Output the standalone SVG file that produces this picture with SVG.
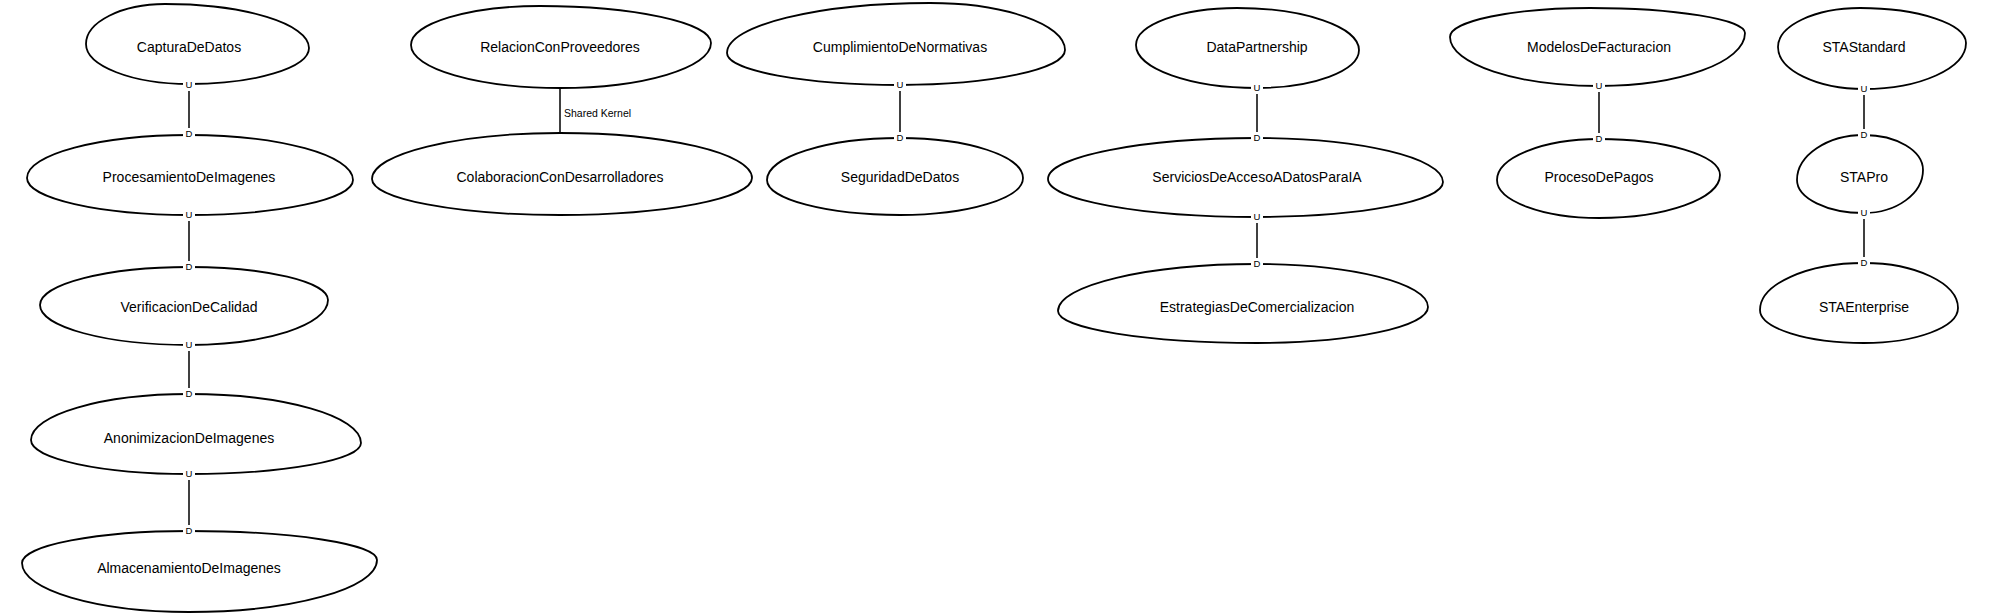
<svg xmlns="http://www.w3.org/2000/svg" width="2000" height="615" viewBox="0 0 2000 615">
<style>
.node path{fill:#fff;stroke:#000;stroke-width:1.8}
.node text{font-family:"Liberation Sans",Arial,sans-serif;font-size:14px;text-anchor:middle;fill:#000}
.edge line{stroke:#000;stroke-width:1.5}
.ud rect{fill:#fff}
.ud text{font-family:"Liberation Sans",Arial,sans-serif;font-size:9.5px;text-anchor:middle;fill:#000}
.lbl{font-family:"Liberation Sans",Arial,sans-serif;font-size:10.5px;fill:#000}
</style>
<rect width="2000" height="615" fill="#fff"/>
<g id="nodes">
<g id="CapturaDeDatos" class="node"><path d="M189,84 C132.4,84 86,66 86,44 C86,22 121.6,4 165,4 C244.2,4 309,23.8 309,48 C309,67.8 255,84 189,84Z"/><text x="189" y="52">CapturaDeDatos</text></g>
<g id="ProcesamientoDeImagenes" class="node"><path d="M189,215 C99.9,215 27,198.4 27,178 C27,154.4 99.9,135 189,135 C279.2,135 353,155.3 353,180 C353,199.3 279.2,215 189,215Z"/><text x="189" y="182">ProcesamientoDeImagenes</text></g>
<g id="VerificacionDeCalidad" class="node"><path d="M189,345 C107,345 40,327 40,305 C40,284.1 107,267 189,267 C265.5,267 328,281.9 328,300 C328,324.8 265.5,345 189,345Z"/><text x="189" y="312">VerificacionDeCalidad</text></g>
<g id="AnonimizacionDeImagenes" class="node"><path d="M189,474 C102.1,474 31,458.7 31,440 C31,414.7 102.1,394 189,394 C283.6,394 361,416 361,443 C361,460 283.6,474 189,474Z"/><text x="189" y="443">AnonimizacionDeImagenes</text></g>
<g id="AlmacenamientoDeImagenes" class="node"><path d="M189,612 C97.2,612 22,590 22,563 C22,545.4 97.2,531 189,531 C292.4,531 377,544 377,560 C377,588.6 292.4,612 189,612Z"/><text x="189" y="573">AlmacenamientoDeImagenes</text></g>
<g id="RelacionConProveedores" class="node"><path d="M560,88 C478,88 411,68.7 411,45 C411,23.6 469,6 540,6 C634,6 711,22.7 711,43 C711,67.8 643,88 560,88Z"/><text x="560" y="52">RelacionConProveedores</text></g>
<g id="ColaboracionConDesarrolladores" class="node"><path d="M560,215 C456.6,215 372,198.8 372,179 C372,153.7 456.6,133 560,133 C665.6,133 752,153.3 752,178 C752,198.4 665.6,215 560,215Z"/><text x="560" y="182">ColaboracionConDesarrolladores</text></g>
<g id="CumplimientoDeNormativas" class="node"><path d="M900,85 C804.9,85 727,70.6 727,53 C727,25.5 818.4,3 930,3 C1004.3,3 1065,24.2 1065,50 C1065,69.3 990.8,85 900,85Z"/><text x="900" y="52">CumplimientoDeNormativas</text></g>
<g id="SeguridadDeDatos" class="node"><path d="M900,215 C826.9,215 767,199.3 767,180 C767,156.9 826.9,138 900,138 C967.7,138 1023,156 1023,178 C1023,198.4 967.7,215 900,215Z"/><text x="900" y="182">SeguridadDeDatos</text></g>
<g id="DataPartnership" class="node"><path d="M1257,88 C1190.5,88 1136,68.7 1136,45 C1136,24.7 1181.5,8 1237,8 C1304.1,8 1359,26.9 1359,50 C1359,70.9 1313.1,88 1257,88Z"/><text x="1257" y="52">DataPartnership</text></g>
<g id="ServiciosDeAccesoADatosParaIA" class="node"><path d="M1257,217 C1142,217 1048,199.9 1048,179 C1048,156.5 1142,138 1257,138 C1359.3,138 1443,157.8 1443,182 C1443,201.3 1359.3,217 1257,217Z"/><text x="1257" y="182">ServiciosDeAccesoADatosParaIA</text></g>
<g id="EstrategiasDeComercializacion" class="node"><path d="M1257,343 C1147.6,343 1058,328.6 1058,311 C1058,285.2 1147.6,264 1257,264 C1351,264 1428,283.4 1428,307 C1428,326.8 1351,343 1257,343Z"/><text x="1257" y="312">EstrategiasDeComercializacion</text></g>
<g id="ModelosDeFacturacion" class="node"><path d="M1599,86 C1517,86 1450,64 1450,37 C1450,21 1513,8 1590,8 C1675.3,8 1745,19.3 1745,33 C1745,62.2 1679.3,86 1599,86Z"/><text x="1599" y="52">ModelosDeFacturacion</text></g>
<g id="ProcesoDePagos" class="node"><path d="M1599,218 C1542.9,218 1497,200.9 1497,180 C1497,157.5 1542.9,139 1599,139 C1665.6,139 1720,155.2 1720,175 C1720,198.7 1665.6,218 1599,218Z"/><text x="1599" y="182">ProcesoDePagos</text></g>
<g id="STAStandard" class="node"><path d="M1864,89 C1816.7,89 1778,70.1 1778,47 C1778,25.6 1814.9,8 1860,8 C1918.3,8 1966,23.8 1966,43 C1966,68.3 1920.1,89 1864,89Z"/><text x="1864" y="52">STAStandard</text></g>
<g id="STAPro" class="node"><path d="M1864,213 C1827.2,213 1797,198.2 1797,180 C1797,155.3 1827.2,135 1864,135 C1896.5,135 1923,150.8 1923,170 C1923,193.7 1896.5,213 1864,213Z"/><text x="1864" y="182">STAPro</text></g>
<g id="STAEnterprise" class="node"><path d="M1864,343 C1806.8,343 1760,328.2 1760,310 C1760,284.2 1806.8,263 1864,263 C1915.7,263 1958,283.3 1958,308 C1958,327.3 1915.7,343 1864,343Z"/><text x="1864" y="312">STAEnterprise</text></g>
</g>
<g id="connectors">
<g class="edge">
<line x1="189" y1="91" x2="189" y2="128"/>
<line x1="189" y1="221" x2="189" y2="261"/>
<line x1="189" y1="351" x2="189" y2="388"/>
<line x1="189" y1="480" x2="189" y2="525"/>
<line x1="560" y1="88" x2="560" y2="133"/>
<line x1="900" y1="91" x2="900" y2="132"/>
<line x1="1257" y1="94" x2="1257" y2="132"/>
<line x1="1257" y1="223" x2="1257" y2="258"/>
<line x1="1599" y1="92" x2="1599" y2="133"/>
<line x1="1864" y1="95" x2="1864" y2="129"/>
<line x1="1864" y1="219" x2="1864" y2="257"/>
</g>
<text class="lbl" x="564" y="117">Shared Kernel</text>
<g class="ud">
<rect x="183" y="80" width="12" height="10"/><text x="189" y="88">U</text>
<rect x="183" y="129" width="12" height="10"/><text x="189" y="137">D</text>
<rect x="183" y="210" width="12" height="10"/><text x="189" y="218">U</text>
<rect x="183" y="262" width="12" height="10"/><text x="189" y="270">D</text>
<rect x="183" y="340" width="12" height="10"/><text x="189" y="348">U</text>
<rect x="183" y="389" width="12" height="10"/><text x="189" y="397">D</text>
<rect x="183" y="469" width="12" height="10"/><text x="189" y="477">U</text>
<rect x="183" y="526" width="12" height="10"/><text x="189" y="534">D</text>
<rect x="894" y="80" width="12" height="10"/><text x="900" y="88">U</text>
<rect x="894" y="133" width="12" height="10"/><text x="900" y="141">D</text>
<rect x="1251" y="83" width="12" height="10"/><text x="1257" y="91">U</text>
<rect x="1251" y="133" width="12" height="10"/><text x="1257" y="141">D</text>
<rect x="1251" y="212" width="12" height="10"/><text x="1257" y="220">U</text>
<rect x="1251" y="259" width="12" height="10"/><text x="1257" y="267">D</text>
<rect x="1593" y="81" width="12" height="10"/><text x="1599" y="89">U</text>
<rect x="1593" y="134" width="12" height="10"/><text x="1599" y="142">D</text>
<rect x="1858" y="84" width="12" height="10"/><text x="1864" y="92">U</text>
<rect x="1858" y="130" width="12" height="10"/><text x="1864" y="138">D</text>
<rect x="1858" y="208" width="12" height="10"/><text x="1864" y="216">U</text>
<rect x="1858" y="258" width="12" height="10"/><text x="1864" y="266">D</text>
</g>
</g>
</svg>
